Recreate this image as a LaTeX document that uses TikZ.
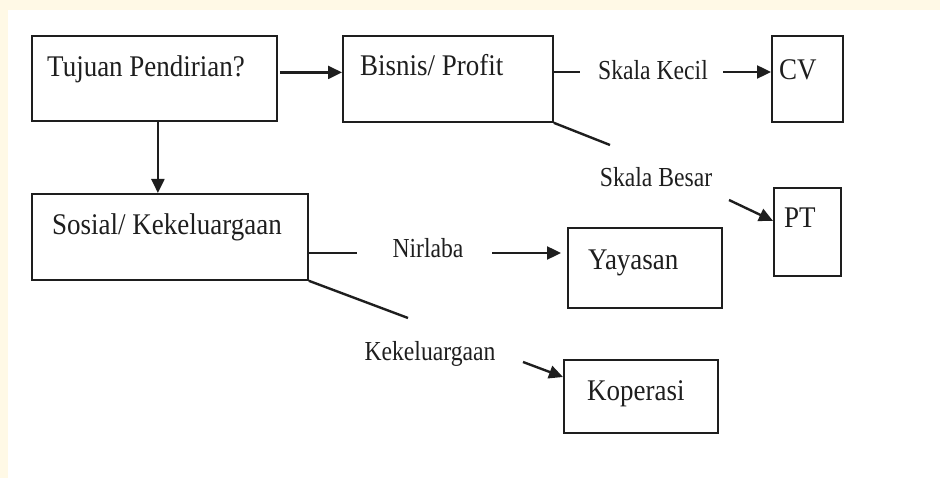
\documentclass[tikz,border=0pt]{standalone}
\usepackage{fontspec}
\setmainfont{Liberation Serif}
\newfontfamily\boxfont{Liberation Serif}[FakeStretch=0.9]
\newfontfamily\lblfont{Liberation Serif}[FakeStretch=0.86]
\usetikzlibrary{arrows.meta}
\definecolor{bgy}{HTML}{FFF9E6}
\definecolor{ink}{HTML}{1E1E1E}
\begin{document}
\begin{tikzpicture}[x=1pt,y=-1pt,
  box/.style={draw=ink, line width=1.8pt, anchor=north west, inner sep=0pt},
  boxtext/.style={anchor=base west, inner sep=0pt, font=\boxfont\fontsize{30}{33}\selectfont, text=ink},
  lbl/.style={anchor=base, inner sep=0pt, font=\lblfont\fontsize{27.5}{30}\selectfont, text=ink},
  conn/.style={line width=2.4pt, draw=ink},
  arr/.style={conn, -{Triangle[length=14pt,width=13pt]}}]
\fill[bgy] (0,0) rectangle (940,10);
\fill[bgy] (0,0) rectangle (8,478);
\useasboundingbox (0,0) rectangle (940,478);

% boxes
\node[box, minimum width=245pt, minimum height=85pt] (tujuan) at (31,35) {};
\node[boxtext] (tujuanT) at (47,77) {Tujuan Pendirian?};
\node[box, minimum width=210pt, minimum height=86pt] (bisnis) at (342,35) {};
\node[boxtext] (bisnisT) at (360,76) {Bisnis/ Profit};
\node[box, minimum width=71pt, minimum height=86pt] (cv) at (771,35) {};
\node[boxtext] (cvT) at (779,80) {CV};
\node[box, minimum width=67pt, minimum height=88pt] (pt) at (773,187) {};
\node[boxtext] (ptT) at (784,228) {PT};
\node[box, minimum width=276pt, minimum height=86pt] (sosial) at (31,193) {};
\node[boxtext] (sosialT) at (52,235) {Sosial/ Kekeluargaan};
\node[box, minimum width=154pt, minimum height=80pt] (yayasan) at (567,227) {};
\node[boxtext] (yayasanT) at (588,270) {Yayasan};
\node[box, minimum width=154pt, minimum height=73pt] (koperasi) at (563,359) {};
\node[boxtext] (koperasiT) at (587,400) {Koperasi};

% labels
\node[lbl] (kecil) at (653,80) {Skala Kecil};
\node[lbl] (besar) at (656,187) {Skala Besar};
\node[lbl] (nirlaba) at (428,258) {Nirlaba};
\node[lbl] (kel) at (430,360) {Kekeluargaan};

% connectors
\coordinate (a1) at ([yshift=6pt]tujuan.east);
\draw[arr, shorten <=2pt] (a1) -- (bisnis.west |- a1);
\coordinate (a2) at ([xshift=3.5pt]tujuan.south);
\draw[arr] (a2) -- (a2 |- sosial.north);

\coordinate (e1) at (580,72);
\draw[conn] (bisnis.east |- e1) -- (e1);
\coordinate (s1) at (723,72);
\draw[arr] (s1) -- (cv.west |- s1);

\coordinate (e2) at (610,145);
\draw[conn] (bisnis.south east) -- (e2);
\coordinate (s2) at (729,200);
\draw[arr] (s2) -- ([yshift=11pt]pt.west);

\coordinate (e3) at (357,253);
\draw[conn] (sosial.east |- e3) -- (e3);
\coordinate (s3) at (492,253);
\draw[arr, shorten >=6pt] (s3) -- (yayasan.west |- s3);

\coordinate (e4) at (408,318);
\draw[conn] (sosial.south east) -- (e4);
\coordinate (s4) at (523,362);
\draw[arr] (s4) -- ([yshift=-18pt]koperasi.north west);
\end{tikzpicture}
\end{document}
